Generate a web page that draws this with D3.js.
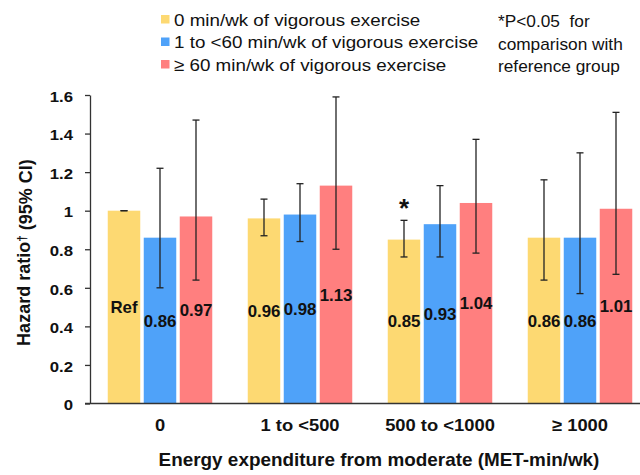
<!DOCTYPE html>
<html>
<head>
<meta charset="utf-8">
<script src="https://cdn.jsdelivr.net/npm/d3@7"></script>
<style>
  body { margin: 0; background: #fff; }
  svg text { font-family: "Liberation Sans", Arial, sans-serif; fill: #111; }
</style>
</head>
<body>
<svg id="chart" width="640" height="475"></svg>
<script>
// --- data ---
const groups = ["0", "1 to <500", "500 to <1000", "\u2265 1000"];
const seriesNames = [
  "0 min/wk of vigorous exercise",
  "1 to <60 min/wk of vigorous exercise",
  "\u2265 60 min/wk of vigorous exercise"
];
const seriesColors = ["#FDD972", "#4FA2F9", "#FF7F7F"];

const hrNone   = [1.00, 0.96, 0.85, 0.86];
const hrLow    = [0.86, 0.98, 0.93, 0.86];
const hrHigh   = [0.97, 1.13, 1.04, 1.01];
const lowNone  = [1.00, 0.87, 0.76, 0.64];
const lowLow   = [0.60, 0.84, 0.76, 0.57];
const lowHigh  = [0.64, 0.80, 0.78, 0.67];
const upNone   = [1.00, 1.06, 0.95, 1.16];
const upLow    = [1.22, 1.14, 1.13, 1.30];
const upHigh   = [1.47, 1.59, 1.37, 1.51];
const labelsNone = ["Ref", "0.96", "0.85", "0.86"];
const sigNone    = [false, false, true, false];
const yTicks = [0, 0.2, 0.4, 0.6, 0.8, 1, 1.2, 1.4, 1.6];

const noteLines = ["*P<0.05  for", "comparison with", "reference group"];

// the source text is drawn a little wide, so stretch it horizontally
const SX = 1.08;

const hr = [hrNone, hrLow, hrHigh];
const lo = [lowNone, lowLow, lowHigh];
const up = [upNone, upLow, upHigh];

// flatten into one row per bar
const bars = [];
groups.forEach((g, gi) => {
  seriesNames.forEach((s, si) => {
    bars.push({
      group: g, series: s, si: si,
      value: hr[si][gi], low: lo[si][gi], high: up[si][gi],
      label: si === 0 ? labelsNone[gi] : d3.format(".2f")(hr[si][gi]),
      sig: si === 0 && sigNone[gi]
    });
  });
});

const svg = d3.select("#chart");

const y = d3.scaleLinear().domain([0, 1.6]).range([403.5, 95]);
const x0 = d3.scaleBand().domain(groups).range([90, 650]).padding(0);
const x1 = d3.scaleBand().domain(seriesNames).range([0, x0.bandwidth()])
  .paddingInner(0.097).paddingOuter(0.493);
const color = d3.scaleOrdinal().domain(seriesNames).range(seriesColors);

// stretched text helper
function stext(sel, x, yy, str) {
  return sel.append("text")
    .attr("transform", `translate(${x},${yy}) scale(${SX},1)`)
    .text(str);
}

// bars
const barG = svg.append("g");
barG.selectAll("rect")
  .data(bars)
  .join("rect")
  .attr("x", d => x0(d.group) + x1(d.series))
  .attr("y", d => y(d.value))
  .attr("width", x1.bandwidth())
  .attr("height", d => y(0) - y(d.value))
  .attr("fill", d => color(d.series));

// value labels, centred inside each bar
barG.selectAll("g.lab")
  .data(bars)
  .join("g")
  .attr("class", "lab")
  .each(function(d) {
    d3.select(this).append("text")
      .attr("transform", `translate(${x0(d.group) + x1(d.series) + x1.bandwidth() / 2},${y(d.value / 2)}) scale(1.02,1)`)
      .attr("text-anchor", "middle")
      .attr("dy", "0.36em")
      .style("font-size", "16.5px")
      .style("font-weight", "bold")
      .text(d.label);
  });

// error bars
const errG = svg.append("g").attr("stroke", "#222").attr("stroke-width", 1.3);
const cap = 3.5;
bars.forEach(d => {
  const cx = x0(d.group) + x1(d.series) + x1.bandwidth() / 2;
  errG.append("line").attr("x1", cx).attr("x2", cx).attr("y1", y(d.low)).attr("y2", y(d.high));
  errG.append("line").attr("x1", cx - cap).attr("x2", cx + cap).attr("y1", y(d.high)).attr("y2", y(d.high));
  errG.append("line").attr("x1", cx - cap).attr("x2", cx + cap).attr("y1", y(d.low)).attr("y2", y(d.low));
});

// significance star
svg.append("g").selectAll("text")
  .data(bars.filter(d => d.sig))
  .join("text")
  .attr("x", d => x0(d.group) + x1(d.series) + x1.bandwidth() / 2)
  .attr("y", d => y(d.high) - 3)
  .attr("text-anchor", "middle")
  .style("font-size", "26px")
  .style("font-weight", "bold")
  .text("*");

// y axis
const yAxis = svg.append("g")
  .attr("transform", "translate(90,0)")
  .call(d3.axisLeft(y).tickValues(yTicks).tickFormat(d3.format("")).tickSize(5).tickSizeOuter(0).tickPadding(12));
yAxis.select(".domain").attr("stroke", "#333").attr("stroke-width", 1.3);
yAxis.selectAll(".tick line").attr("stroke", "#333").attr("stroke-width", 1.3);
yAxis.selectAll(".tick text")
  .attr("x", -17 / SX)
  .attr("dy", "0.4em")
  .attr("transform", `scale(${SX},1)`)
  .style("font-size", "15.5px")
  .style("font-weight", "bold")
  .style("font-family", "'Liberation Sans', Arial, sans-serif")
  .attr("fill", "#111");

// x axis
const xAxis = svg.append("g")
  .attr("transform", `translate(0,${y(0)})`)
  .call(d3.axisBottom(x0).tickSize(0).tickPadding(0));
xAxis.select(".domain").remove();
svg.append("line")
  .attr("x1", 85).attr("x2", 640)
  .attr("y1", y(0)).attr("y2", y(0))
  .attr("stroke", "#333").attr("stroke-width", 1.3);
xAxis.selectAll(".tick text")
  .attr("y", 0)
  .attr("dy", 0)
  .attr("transform", `translate(0,27.5) scale(${SX},1)`)
  .style("font-size", "17px")
  .style("font-weight", "bold")
  .style("font-family", "'Liberation Sans', Arial, sans-serif")
  .attr("fill", "#111");

// axis titles
stext(svg, 379, 466, "Energy expenditure from moderate (MET-min/wk)")
  .attr("text-anchor", "middle")
  .style("font-size", "17.5px")
  .style("font-weight", "bold");

const yTitle = svg.append("text")
  .attr("transform", "translate(30,252.5) rotate(-90)")
  .attr("text-anchor", "middle")
  .style("font-size", "18px")
  .style("font-weight", "bold");
yTitle.append("tspan").text("Hazard ratio");
yTitle.append("tspan").attr("dy", "-0.35em").style("font-size", "12px").text("\u2020");
yTitle.append("tspan").attr("dy", "0.35em").text(" (95% CI)");

// legend
const legend = svg.append("g");
seriesNames.forEach((s, i) => {
  const by = 25.5 + i * 22.5;
  legend.append("rect")
    .attr("x", 161).attr("y", by - 10.5).attr("width", 8.5).attr("height", 8.5)
    .attr("fill", seriesColors[i]);
  stext(legend, 174, by, s).style("font-size", "17.4px");
});

// note
const note = svg.append("g");
noteLines.forEach((t, i) => {
  stext(note, 498, 27 + i * 22.5, t)
    .style("font-size", "16px")
    .style("white-space", "pre");
});
</script>
</body>
</html>
